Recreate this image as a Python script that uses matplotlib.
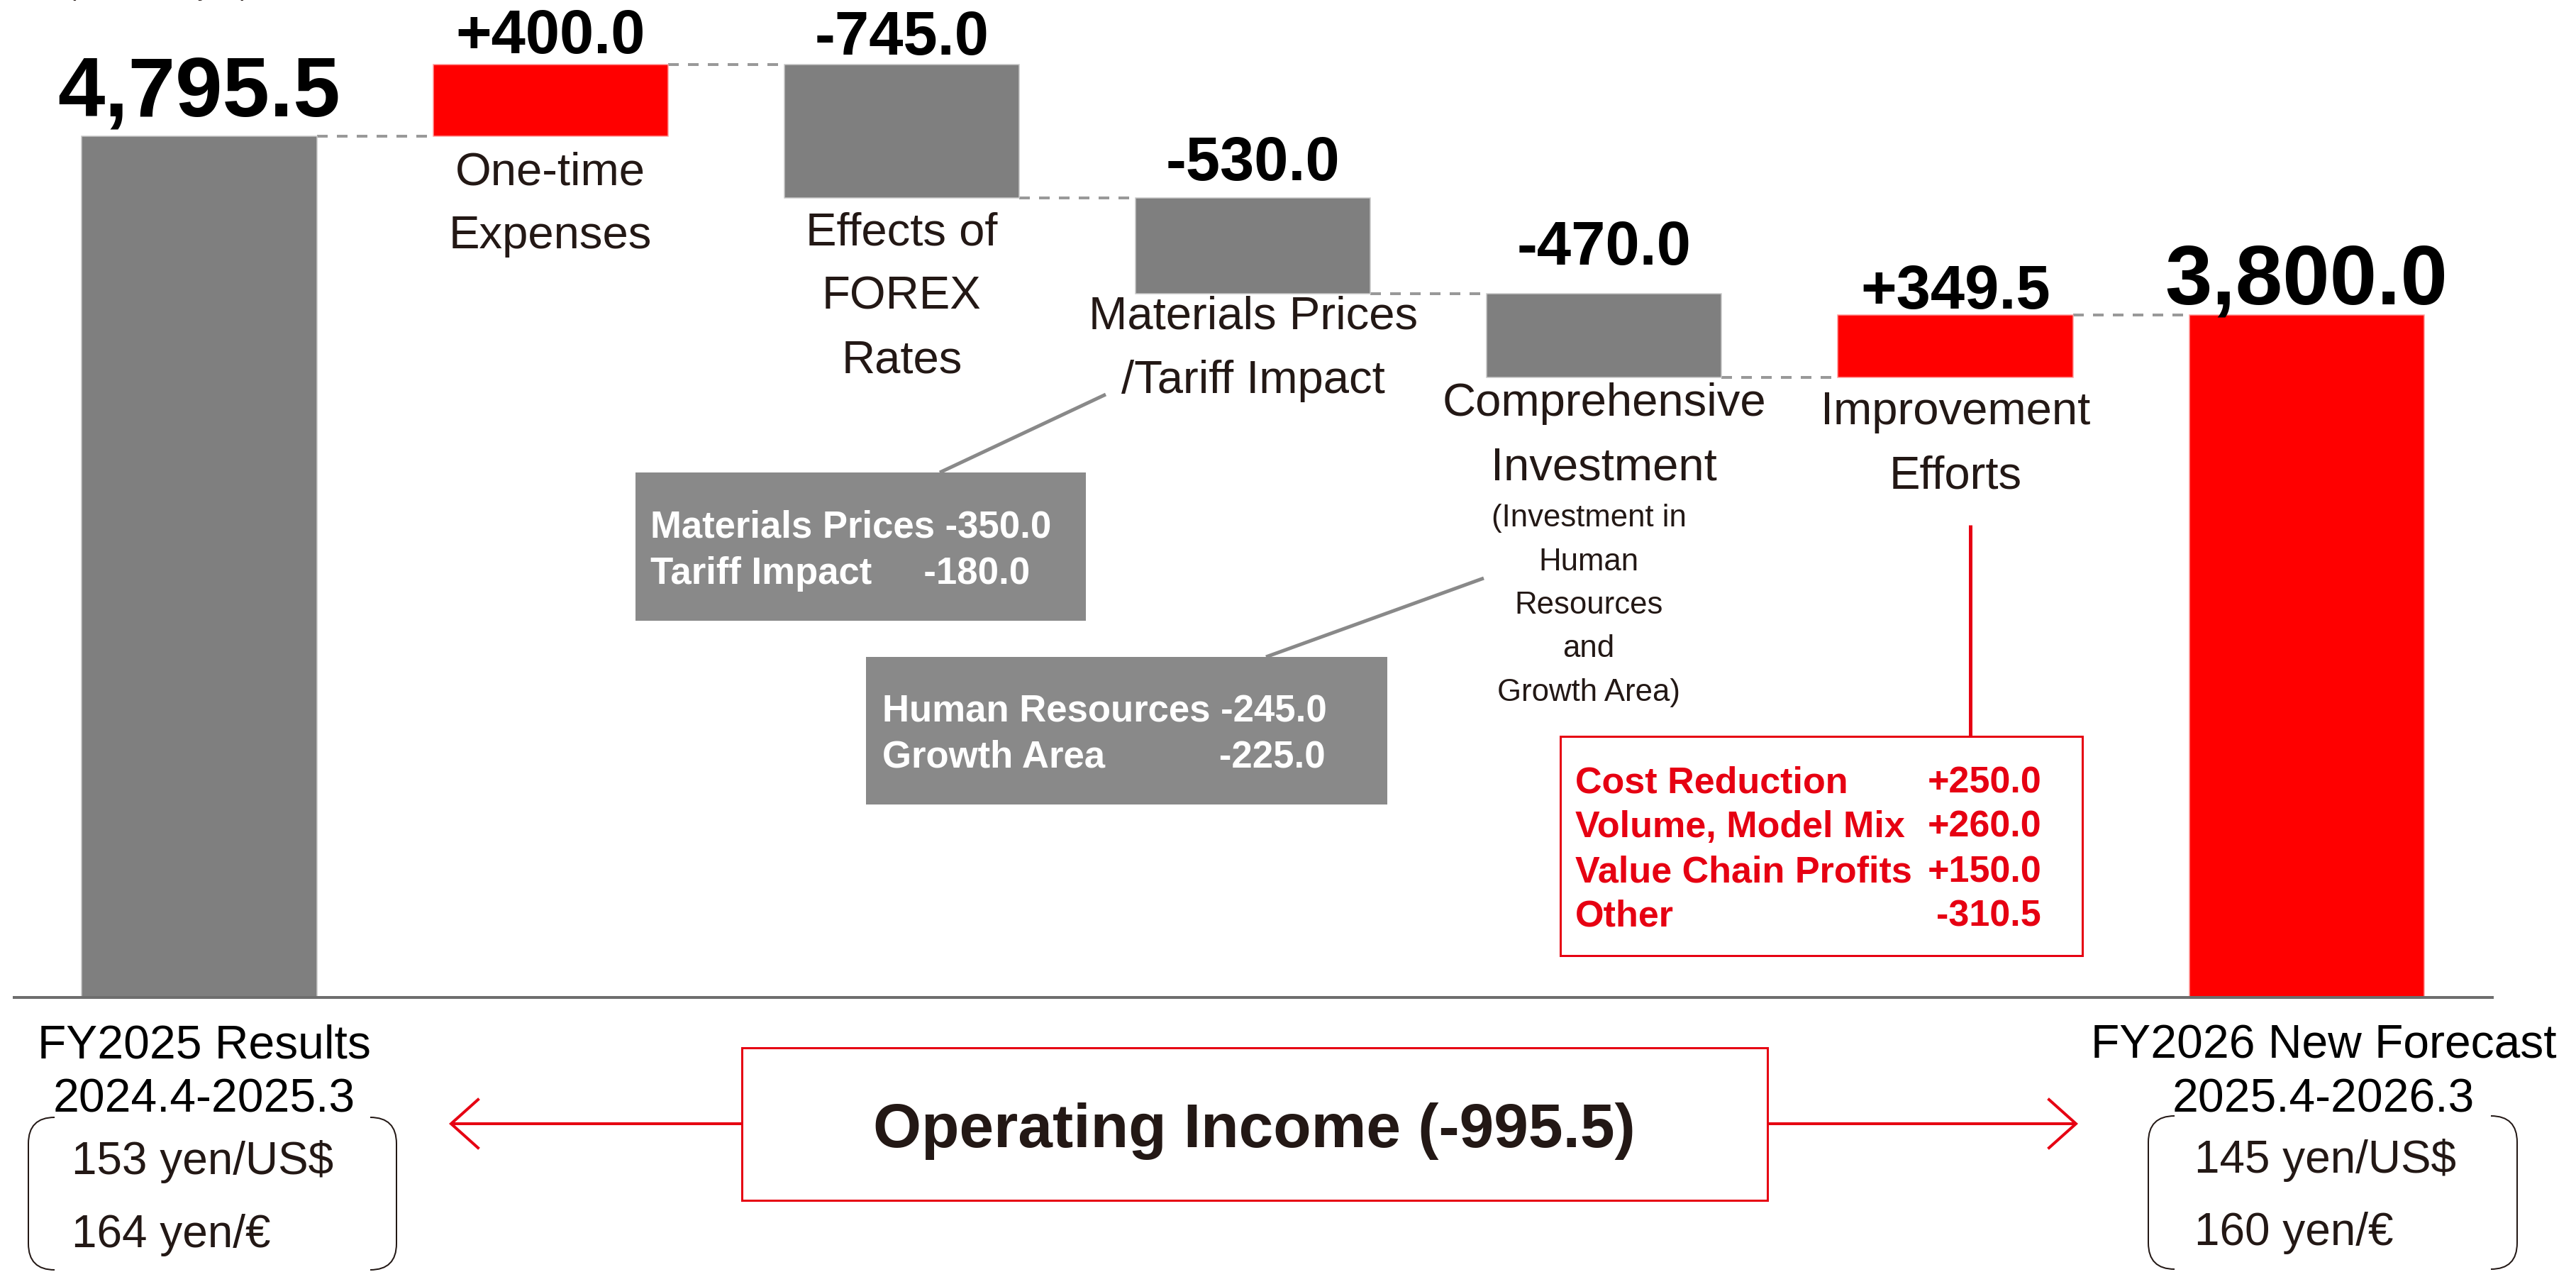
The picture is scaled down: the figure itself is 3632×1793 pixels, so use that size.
import matplotlib
matplotlib.use("Agg")
import matplotlib.pyplot as plt
from matplotlib.patches import Rectangle, PathPatch
from matplotlib.path import Path

plt.rcParams['font.family'] = ['Liberation Sans', 'DejaVu Sans']

# ---------------- data ----------------
categories = ["FY2025 Results\n2024.4-2025.3", "One-time\nExpenses",
              "Effects of\nFOREX\nRates", "Materials Prices\n/Tariff Impact",
              "Comprehensive\nInvestment", "Improvement\nEfforts",
              "FY2026 New Forecast\n2025.4-2026.3"]
values = [4795.5, 400.0, -745.0, -530.0, -470.0, 349.5, 3800.0]
is_total = [True, False, False, False, False, False, True]
value_labels = ["4,795.5", "+400.0", "-745.0", "-530.0", "-470.0", "+349.5", "3,800.0"]
sub_note = "(Investment in\nHuman\nResources\nand\nGrowth Area)"
materials_breakdown = ["Materials Prices -350.0", "Tariff Impact     -180.0"]
investment_breakdown = ["Human Resources -245.0", "Growth Area           -225.0"]
improvement_items = ["Cost Reduction", "Volume, Model Mix", "Value Chain Profits", "Other"]
improvement_values = ["+250.0", "+260.0", "+150.0", "-310.5"]
rates_fy2025 = ["153 yen/US$", "164 yen/\u20ac"]
rates_fy2026 = ["145 yen/US$", "160 yen/\u20ac"]
summary_text = "Operating Income (-995.5)"
unit_text = "(Billions of yen)"

# ---------------- style ----------------
GRAY = "#7f7f7f"
RED = "#ff0000"
ACC_RED = "#e60012"
BOX_GRAY = "#898989"
TXT = "#231815"
bar_colors = [GRAY, RED, GRAY, GRAY, GRAY, RED, RED]
bar_edges = ["#c8c8c8", "#ff9a9a", "#c8c8c8", "#c8c8c8", "#c8c8c8", "#ff9a9a", "#ff9a9a"]

W, H = 3632, 1793
fig = plt.figure(figsize=(W / 100, H / 100), dpi=100)
fig.patch.set_facecolor("white")

PX = 0.72  # points per pixel at dpi 100

# main data axes spanning the figure
ax = fig.add_axes([0, 0, 1, 1])
ax.set_xlim(-0.5675, 6.767)
ax.set_ylim(-1529, 5554)
ax.axis("off")

# overlay axes in pixel coordinates for decorations
ov = fig.add_axes([0, 0, 1, 1])
ov.set_xlim(0, W)
ov.set_ylim(H, 0)
ov.axis("off")
ov.patch.set_alpha(0)

# ---------------- waterfall ----------------
bottoms, heights, tops, levels = [], [], [], []
running = 0.0
for v, tot in zip(values, is_total):
    if tot:
        b, h = 0.0, v
        running = v
    else:
        if v >= 0:
            b, h = running, v
        else:
            b, h = running + v, -v
        running += v
    bottoms.append(b)
    heights.append(h)
    tops.append(b + h)
    levels.append(running)

xs = list(range(len(values)))
bw = 0.669
ax.bar(xs, heights, bottom=bottoms, width=bw, color=bar_colors,
       edgecolor=bar_edges, linewidth=1.5 * PX, zorder=2)

# dashed connectors
for i in range(len(values) - 1):
    ax.plot([i + bw / 2, i + 1 - bw / 2], [levels[i], levels[i]],
            color="#999999", lw=4 * PX, ls=(0, (3.75, 3.25)), zorder=1,
            solid_capstyle="butt", dash_capstyle="butt")

# baseline
ax.plot([-0.5312, 6.533], [0, 0], color="#6e6e6e", lw=4 * PX, zorder=3,
        solid_capstyle="butt")

# value labels
label_gap_px = [29, 16, 14, 25, 41, 9, 16]
for i, (lbl, top) in enumerate(zip(value_labels, tops)):
    fs = 86 if is_total[i] else 62.5
    ax.annotate(lbl, xy=(i, top), xytext=(0, label_gap_px[i] * PX),
                textcoords="offset points", ha="center", va="baseline",
                fontsize=fs, fontweight="bold", color="black", zorder=5)

# category labels beneath floating bars (one text per line)
cat_gap_px = [0, 68, 66, 50, 54, 66, 0]
cat_step_px = 90
for i in range(1, len(values) - 1):
    for k, line in enumerate(categories[i].split("\n")):
        ax.annotate(line, xy=(i, bottoms[i]),
                    xytext=(0, -(cat_gap_px[i] + k * cat_step_px) * PX),
                    textcoords="offset points", ha="center", va="baseline",
                    fontsize=47, color=TXT, zorder=5)


def ov_lines(x, y0, text, step, **kw):
    for k, line in enumerate(text.split("\n")):
        ov.text(x, y0 + k * step, line, va="baseline", **kw)


# sub note under Comprehensive Investment
ov_lines(2240, 742, sub_note, 61.5, ha="center", fontsize=31.5, color=TXT)

# FY labels under the end bars
ov_lines(288, 1492, categories[0], 75, ha="center", fontsize=47.5, color="black")
ov_lines(3276, 1492, categories[-1], 75, ha="center", fontsize=47.5, color="black")

# unit label (cut off at the top edge, as in the source slide)
ov.text(95, -7, unit_text, ha="left", va="baseline", fontsize=27, color=TXT)

# ---------------- breakdown boxes ----------------
ov.plot([1325, 1559], [666, 556], color=BOX_GRAY, lw=5 * PX,
        solid_capstyle="butt")
ov.add_patch(Rectangle((896, 666), 1531 - 896, 875 - 666,
                       facecolor=BOX_GRAY, edgecolor="none"))
for line, y in zip(materials_breakdown, [758, 823]):
    ov.text(917, y, line, ha="left", va="baseline", fontsize=38,
            fontweight="bold", color="white")

ov.plot([1785, 2092], [926, 815], color=BOX_GRAY, lw=5 * PX,
        solid_capstyle="butt")
ov.add_patch(Rectangle((1221, 926), 1956 - 1221, 1134 - 926,
                       facecolor=BOX_GRAY, edgecolor="none"))
for line, y in zip(investment_breakdown, [1018, 1082]):
    ov.text(1244, y, line, ha="left", va="baseline", fontsize=38,
            fontweight="bold", color="white")

# improvement breakdown
ov.plot([2778, 2778], [740, 1038], color=ACC_RED, lw=5 * PX,
        solid_capstyle="butt")
ov.add_patch(Rectangle((2200, 1038), 2936 - 2200, 1347 - 1038,
                       facecolor="white", edgecolor=ACC_RED, lw=3 * PX))
for item, val, y in zip(improvement_items, improvement_values,
                        [1117, 1180, 1243, 1305]):
    ov.text(2221, y, item, ha="left", va="baseline", fontsize=37.5,
            fontweight="bold", color=ACC_RED)
    ov.text(2878, y, val, ha="right", va="baseline", fontsize=37.5,
            fontweight="bold", color=ACC_RED)

# ---------------- bottom summary ----------------
ov.add_patch(Rectangle((1046, 1477), 2492 - 1046, 1692 - 1477,
                       facecolor="white", edgecolor=ACC_RED, lw=3 * PX))
ov.text(1768, 1617, summary_text, ha="center", va="baseline", fontsize=63,
        fontweight="bold", color=TXT)

ay = 1584
ov.plot([1046, 636], [ay, ay], color=ACC_RED, lw=4 * PX, solid_capstyle="butt")
ov.plot([674, 636, 674], [ay - 34, ay, ay + 34], color=ACC_RED, lw=4 * PX,
        solid_joinstyle="miter")
ov.plot([2492, 2927], [ay, ay], color=ACC_RED, lw=4 * PX, solid_capstyle="butt")
ov.plot([2889, 2927, 2889], [ay - 34, ay, ay + 34], color=ACC_RED, lw=4 * PX,
        solid_joinstyle="miter")


def bracket_box(x0, x1, y0, y1, r=37):
    for side in (0, 1):
        if side == 0:
            verts = [(x0 + r, y0), (x0, y0), (x0, y0 + r), (x0, y1 - r),
                     (x0, y1), (x0 + r, y1)]
        else:
            verts = [(x1 - r, y0), (x1, y0), (x1, y0 + r), (x1, y1 - r),
                     (x1, y1), (x1 - r, y1)]
        codes = [Path.MOVETO, Path.CURVE3, Path.CURVE3, Path.LINETO,
                 Path.CURVE3, Path.CURVE3]
        ov.add_patch(PathPatch(Path(verts, codes), facecolor="none",
                               edgecolor=TXT, lw=2 * PX))


bracket_box(40, 559, 1575, 1790)
bracket_box(3029, 3549, 1573, 1789)
for txt, y in zip(rates_fy2025, [1655, 1758]):
    ov.text(101, y, txt, ha="left", va="baseline", fontsize=46, color=TXT)
for txt, y in zip(rates_fy2026, [1653, 1755]):
    ov.text(3094, y, txt, ha="left", va="baseline", fontsize=46, color=TXT)

fig.savefig("out.png", dpi=100, facecolor="white")
